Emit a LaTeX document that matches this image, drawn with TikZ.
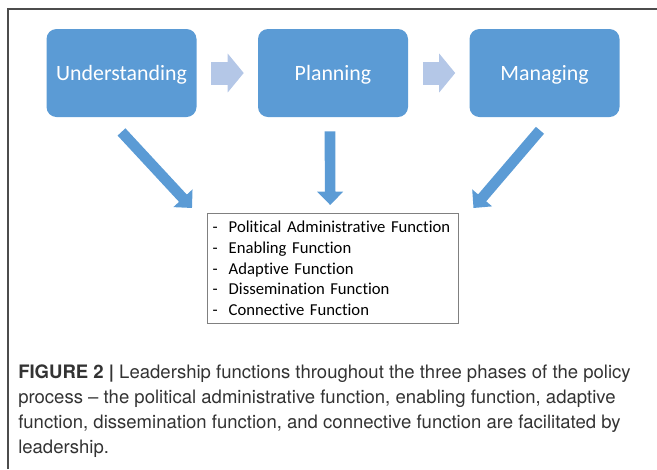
\documentclass[tikz,border=0pt]{standalone}
\usepackage{fontspec}
\setmainfont{Carlito}[Ligatures=NoCommon]
\newfontfamily\capfont{TeX Gyre Heros}
\usetikzlibrary{arrows.meta,positioning}
\definecolor{phaseblue}{HTML}{5B9BD5}
\definecolor{paleblue}{HTML}{B4C7E7}
\definecolor{captext}{HTML}{333333}
\tikzset{
  phase/.style={rectangle, rounded corners=7.5pt, fill=phaseblue, text=white, text depth=0pt,
    minimum width=112.5pt, minimum height=66pt, font=\fontsize{16.4}{19}\selectfont},
  listbox/.style={rectangle, draw=black!50, line width=0.6pt, align=left, anchor=north west,
    text width=180pt, minimum height=82.5pt, inner xsep=4pt, font=\fontsize{12.5}{15.5}\selectfont},
  next/.style={-{Triangle[length=12pt,width=28.5pt]}, line width=17.25pt, draw=paleblue},
  feed/.style={-{Triangle[length=10pt,width=19pt]}, line width=8pt, draw=phaseblue},
  caption/.style={anchor=north west, align=left, text=captext, inner sep=0pt,
    font=\capfont\fontsize{13.9}{18.9}\selectfont},
}
\newcommand{\fitem}[1]{\makebox[12pt][l]{-}#1}

\begin{document}
\begin{tikzpicture}[x=0.75pt, y=-0.75pt]
  \useasboundingbox (0,0) rectangle (657,469);
  % frame, open to the right and below
  \draw[black!70, line width=1pt] (8,469) -- (8,9) -- (657,9);

  % the three phases
  \node[phase] (understanding) at (121.5,73) {Understanding};
  \node[phase] (planning) at (333,73) {Planning};
  \node[phase] (managing) at (544.5,73) {Managing};
  \draw[next] ([xshift=11pt]understanding.east) -- ([xshift=-10.5pt]planning.west);
  \draw[next] ([xshift=11pt]planning.east) -- ([xshift=-10.5pt]managing.west);

  % leadership functions
  \node[listbox] (functions) at (207,213) {\fitem{Political Administrative Function}\\
    \fitem{Enabling Function}\\ \fitem{Adaptive Function}\\
    \fitem{Dissemination Function}\\ \fitem{Connective Function}};
  \draw[feed] ([yshift=-11pt]understanding.south) -- ([xshift=-11.25pt,yshift=3.75pt]functions.north west);
  \draw[feed] ([xshift=-2.25pt,yshift=-10.5pt]planning.south) -- ([xshift=-1.9pt,yshift=6pt]functions.north);
  \draw[feed] ([xshift=-3.4pt,yshift=-9.75pt]managing.south) -- ([xshift=11.25pt,yshift=3.75pt]functions.north east);

  \node[caption] (cap) at (18,364) {{\bfseries FIGURE 2 |} Leadership functions throughout the three phases of the policy\\
    process – the political administrative function, enabling function, adaptive\\
    function, dissemination function, and connective function are facilitated by\\
    leadership.};
\end{tikzpicture}
\end{document}
